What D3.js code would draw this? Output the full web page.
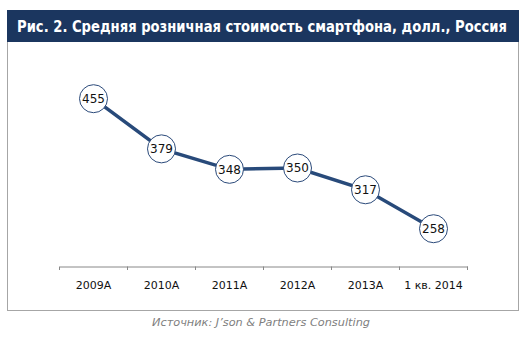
<!DOCTYPE html>
<html><head><meta charset="utf-8">
<script src="https://cdn.jsdelivr.net/npm/d3@7"></script>
<style>html,body{margin:0;padding:0;background:#fff;}svg{display:block;}</style>
</head><body>
<svg id="c" width="529" height="338"></svg>
<script>
const title = "Рис. 2. Средняя розничная стоимость смартфона, долл., Россия";
const source = "Источник: J’son & Partners Consulting";
const categories = ["2009A", "2010A", "2011A", "2012A", "2013A", "1 кв. 2014"];
const values = [455, 379, 348, 350, 317, 258];
const yDomain = [200, 500];

const svg = d3.select("#c");
// frame
svg.append("rect").attr("x", 7.5).attr("y", 10.5).attr("width", 511).attr("height", 300)
  .attr("fill", "#fff").attr("stroke", "#a6a6a6").attr("stroke-width", 1);
svg.append("rect").attr("x", 7).attr("y", 10).attr("width", 512).attr("height", 32)
  .attr("fill", "#1b365f");
const t = svg.append("text").attr("x", 262).attr("y", 32).attr("text-anchor", "middle")
  .attr("fill", "#fff").attr("font-family", "'DejaVu Sans Condensed', 'DejaVu Sans', sans-serif")
  .attr("font-weight", "bold").attr("font-size", 15).text(title);
t.attr("textLength", 490).attr("lengthAdjust", "spacingAndGlyphs");

const x = d3.scaleBand().domain(categories).range([59.5, 467.5]).padding(0);
const y = d3.scaleLinear().domain(yDomain).range([267, 69]);

const axis = d3.axisBottom(x).tickSize(0).tickSizeOuter(0);
const g = svg.append("g").attr("transform", "translate(0,266.5)");
g.call(axis);
g.select(".domain").attr("stroke", "#888").attr("stroke-width", 1);
g.selectAll(".tick line").remove();
g.selectAll(".tick text").attr("font-family", "'DejaVu Sans', sans-serif")
  .attr("font-size", 11).attr("fill", "#111").attr("dy", 0).attr("y", 22);
// band boundary ticks
const bounds = categories.map(c => x(c)).concat([x(categories[categories.length-1]) + x.bandwidth()]);
g.selectAll("line.bt").data(bounds).enter().append("line").attr("class", "bt")
  .attr("x1", d => d).attr("x2", d => d).attr("y1", 0).attr("y2", 3.5)
  .attr("stroke", "#888").attr("stroke-width", 1);

const cx = d => x(d) + x.bandwidth() / 2;
const data = categories.map((c, i) => ({c, v: values[i]}));
svg.append("path").datum(data)
  .attr("d", d3.line().x(d => cx(d.c)).y(d => y(d.v)))
  .attr("fill", "none").attr("stroke", "#284a7a").attr("stroke-width", 3.5);

const pts = svg.append("g").selectAll("g").data(data).enter().append("g")
  .attr("transform", d => `translate(${cx(d.c)},${y(d.v)})`);
pts.append("circle").attr("r", 14).attr("fill", "#fff").attr("stroke", "#2b4a7a").attr("stroke-width", 1);
pts.append("text").attr("text-anchor", "middle").attr("dy", "0.36em")
  .attr("font-family", "'DejaVu Sans', sans-serif").attr("font-size", 12)
  .attr("fill", "#111").text(d => d.v);

svg.append("text").attr("x", 261).attr("y", 326).attr("text-anchor", "middle")
  .attr("font-family", "'DejaVu Sans', sans-serif").attr("font-style", "italic")
  .attr("font-size", 11).attr("fill", "#7f7f7f").attr("textLength", 218)
  .attr("lengthAdjust", "spacingAndGlyphs").text(source);
</script>
</body></html>
